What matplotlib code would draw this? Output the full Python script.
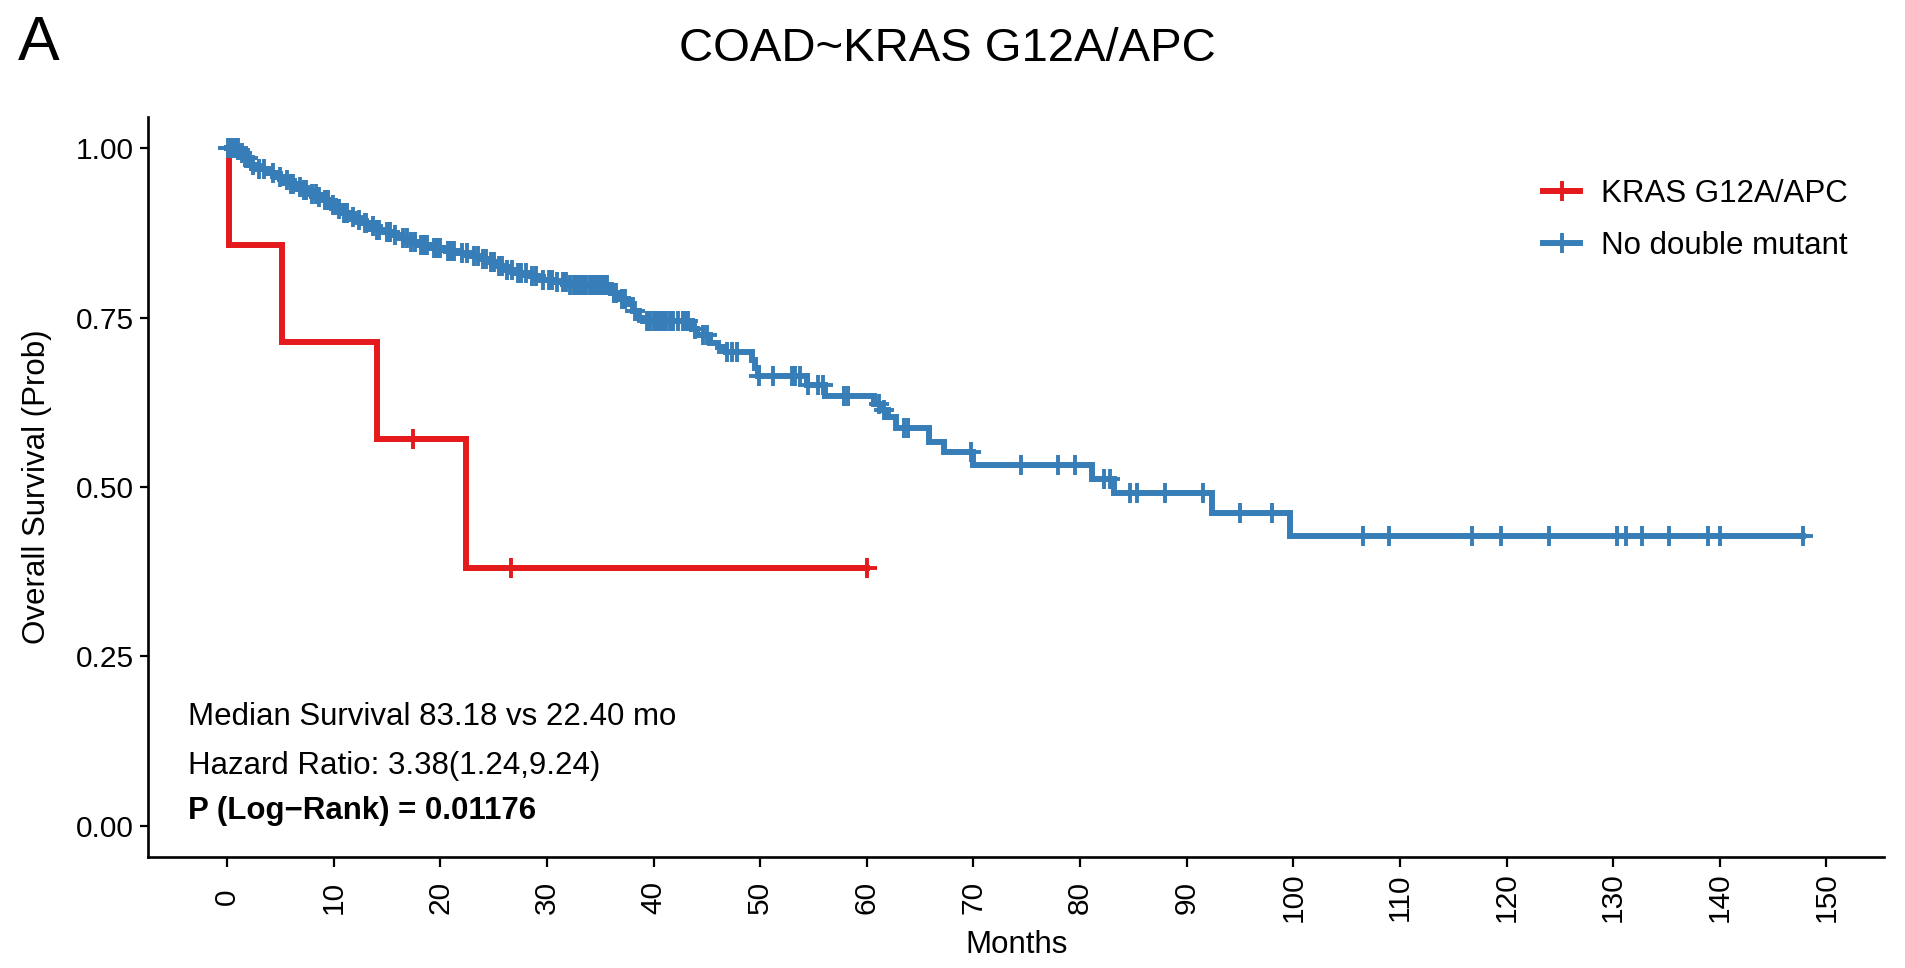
import numpy as np
import matplotlib
matplotlib.use("Agg")
import matplotlib.pyplot as plt
from matplotlib.lines import Line2D

plt.rcParams['font.family'] = ['Liberation Sans', 'DejaVu Sans']

# KM step data (time in months, survival after the step)
red_times = [0, 0.15, 5.2, 14.1, 22.4, 60.0]
red_surv = [1.0, 0.857, 0.714, 0.571, 0.381, 0.381]
red_censor = [17.4, 26.6, 60.0]

blue_times = [0, 1.2, 1.6, 2.2, 2.6, 3.8, 4.6, 5.3, 5.9, 6.5, 7.1, 7.8, 8.4, 9.0, 9.6,
              10.2, 10.8, 11.5, 12.1, 12.7, 13.4, 14.0, 14.7, 15.5, 16.2, 17.0, 17.8,
              19.0, 20.5, 21.8, 22.8, 23.8, 24.5, 25.2, 26.0, 27.0, 28.2, 29.3, 30.6,
              32.0, 36.0, 36.7, 37.6, 38.1, 38.6, 39.0, 43.6, 44.1, 45.3, 46.0, 46.8,
              49.2, 49.5, 49.8, 54.4, 56.1, 60.7, 61.4, 62.0, 62.7, 65.8, 67.2, 70.0,
              81.1, 83.18, 92.4, 99.7, 147.8]
blue_surv = [1.0, 0.993, 0.985, 0.976, 0.970, 0.964, 0.958, 0.953, 0.948, 0.943, 0.938,
             0.933, 0.928, 0.923, 0.917, 0.910, 0.904, 0.899, 0.894, 0.889, 0.885, 0.880,
             0.876, 0.872, 0.867, 0.862, 0.857, 0.853, 0.849, 0.845, 0.841, 0.837, 0.832,
             0.826, 0.820, 0.816, 0.811, 0.806, 0.802, 0.798, 0.786, 0.778, 0.770, 0.760,
             0.750, 0.745, 0.734, 0.724, 0.712, 0.706, 0.700, 0.687, 0.676, 0.664, 0.650,
             0.634, 0.622, 0.614, 0.603, 0.587, 0.567, 0.551, 0.533, 0.512, 0.491, 0.461,
             0.428, 0.428]
blue_censor = [0.1, 0.2, 0.35, 0.5, 0.65, 0.8, 1.0, 1.4, 1.8, 2.0, 2.4, 3.0, 3.5, 4.3,
               5.0, 5.6, 6.0, 6.2, 6.8, 7.2, 7.4, 8.0, 8.3, 8.6, 9.2, 9.5, 9.9, 10.5,
               11.0, 11.3, 11.8, 12.4, 12.9, 13.0, 13.7, 14.1, 14.3, 15.0, 15.3, 15.8,
               16.5, 16.9, 17.3, 17.6, 18.2, 18.5, 18.8, 19.4, 19.7, 20.0, 20.7, 21.0,
               21.3, 22.0, 22.5, 23.2, 23.5, 24.0, 24.3, 24.8, 25.0, 25.5, 25.8, 26.3,
               26.7, 27.3, 27.6, 28.0, 28.6, 29.0, 29.6, 30.2, 30.5, 30.9, 31.5, 31.8,
               32.2, 32.5, 32.7, 33.0, 33.2, 33.5, 33.7, 34.0, 34.2, 34.5, 34.7, 35.0,
               35.2, 35.4, 35.6, 36.3, 36.5, 37.0, 37.3, 38.3, 39.4, 39.7, 40.0, 40.3,
               40.6, 40.9, 41.2, 41.5, 41.8, 42.3, 42.8, 43.0, 43.2, 43.9, 44.6, 45.0,
               46.9, 47.4, 47.8, 49.9, 51.2, 53.0, 53.3, 53.7, 54.5, 55.4, 55.9, 57.9,
               58.2, 61.1, 61.6, 63.5, 63.9, 69.8, 74.5, 77.9, 79.5, 82.2, 82.8, 84.7,
               85.3, 88.0, 91.5, 95.0, 98.0, 106.5, 109.0, 116.8, 119.5, 124.0, 130.4,
               131.2, 132.7, 135.2, 138.9, 140.0, 147.8]

labels = ['KRAS G12A/APC', 'No double mutant']
colors = ['#E41A1C', '#377EB8']
x_ticks = list(range(0, 151, 10))
y_ticks = [0.0, 0.25, 0.5, 0.75, 1.0]
stats_lines = ['Median Survival 83.18 vs 22.40 mo', 'Hazard Ratio: 3.38(1.24,9.24)',
               'P (Log\u2212Rank) = 0.01176']


def surv_at(times, surv, pts):
    idx = np.searchsorted(times, pts, side='right') - 1
    return np.asarray(surv)[idx]


fig = plt.figure(figsize=(19.06, 9.68), dpi=100)
ax = fig.add_axes([0.0777, 0.1147, 0.9108, 0.7643])

for t, s, c, col in [(red_times, red_surv, red_censor, colors[0]),
                     (blue_times, blue_surv, blue_censor, colors[1])]:
    ax.plot(t, s, drawstyle='steps-post', color=col, lw=4.3, solid_joinstyle='miter')
    ax.plot(c, surv_at(t, s, c), ls='none', marker='+', ms=14, mew=2.8, color=col)

ax.set_xlim(-7.4, 155.4)
ax.set_ylim(-0.046, 1.046)
ax.set_xticks(x_ticks)
ax.set_yticks(y_ticks)
ax.set_yticklabels(['%.2f' % v for v in y_ticks])
ax.tick_params(axis='both', labelsize=21.5, width=1.6, color='black')
ax.tick_params(axis='y', length=6, pad=4)
ax.tick_params(axis='x', length=7, pad=22)
for lab in ax.get_xticklabels():
    lab.set_rotation(90)
    lab.set_va('center')
for side in ['top', 'right']:
    ax.spines[side].set_visible(False)
for side in ['left', 'bottom']:
    ax.spines[side].set_linewidth(1.9)

ax.set_xlabel('Months', fontsize=22.5, labelpad=6)
ax.set_ylabel('Overall Survival (Prob)', fontsize=22.5, labelpad=17)

for txt, yv in zip(stats_lines, [0.160, 0.089, 0.022]):
    ax.text(-3.65, yv, txt, fontsize=22.5, va='center', ha='left',
            fontweight='bold' if txt.startswith('P ') else 'normal')

handles = [Line2D([], [], color=col, lw=4.3, marker='+', ms=14, mew=2.8) for col in colors]
fig.legend(handles, labels, loc='upper left', bbox_to_anchor=(1543 / 1906, 1 - 179 / 968),
           frameon=False, fontsize=22.5, handlelength=1.2, handletextpad=0.65,
           labelspacing=0.7, borderpad=0, borderaxespad=0)

fig.text(0.497, 0.949, 'COAD~KRAS G12A/APC', fontsize=34, ha='center', va='center')
fig.text(18 / 1906, 1 - 60 / 968, 'A', fontsize=45, ha='left', va='baseline')

fig.savefig('out.png', dpi=100)
